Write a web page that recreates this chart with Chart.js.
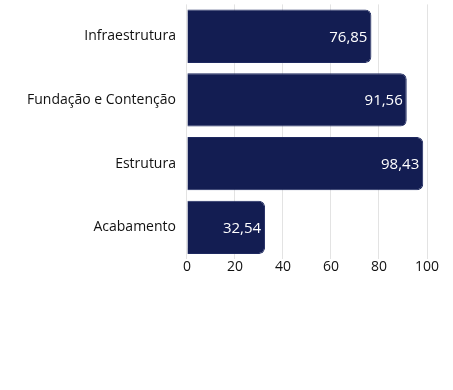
<!DOCTYPE html>
<html><head><meta charset="utf-8">
<script src="https://cdn.jsdelivr.net/npm/chart.js@4"></script>
<style>html,body{margin:0;padding:0;background:#fff}#wrap{width:453px;height:390px}</style>
</head><body><div id="wrap"><canvas id="c"></canvas></div>
<script>
const categories = ["Infraestrutura", "Fundação e Contenção", "Estrutura", "Acabamento"];
const values = [76.85, 91.56, 98.43, 32.54];
const tickValues = [0, 20, 40, 60, 80, 100];

const valueLabels = {
  id: 'valueLabels',
  afterDatasetsDraw(chart) {
    const ctx = chart.ctx;
    const meta = chart.getDatasetMeta(0);
    ctx.save();
    ctx.font = '15px "Open Sans"';
    ctx.fillStyle = '#ffffff';
    ctx.textAlign = 'right';
    ctx.textBaseline = 'middle';
    meta.data.forEach((bar, i) => {
      ctx.fillText(values[i].toFixed(2).replace('.', ','), bar.x - 4, bar.y + 1);
    });
    ctx.restore();
  }
};

new Chart(document.getElementById('c'), {
  type: 'bar',
  data: {
    labels: categories,
    datasets: [{
      data: values,
      backgroundColor: '#131d52',
      borderColor: '#1e2960',
      borderWidth: 1,
      borderRadius: 6,
      borderSkipped: 'start',
      barPercentage: 0.92,
      categoryPercentage: 0.91
    }]
  },
  options: {
    indexAxis: 'y',
    responsive: true,
    maintainAspectRatio: false,
    animation: false,
    layout: { padding: { top: 0, right: 26, bottom: 116, left: 24 } },
    plugins: { legend: { display: false }, tooltip: { enabled: false } },
    scales: {
      x: {
        min: 0, max: 100,
        afterBuildTicks(scale) { scale.ticks = tickValues.map(v => ({ value: v })); },
        grid: { color: '#e3e3e3', drawTicks: false },
        border: { display: false },
        ticks: { color: '#111', font: { family: '"Open Sans"', size: 14 }, padding: -1 }
      },
      y: {
        grid: { display: false },
        border: { display: false },
        ticks: { color: '#111', font: { family: '"Open Sans"', size: 14, lineHeight: 0.2 }, padding: 3 }
      }
    }
  },
  plugins: [valueLabels]
});
</script></body></html>
